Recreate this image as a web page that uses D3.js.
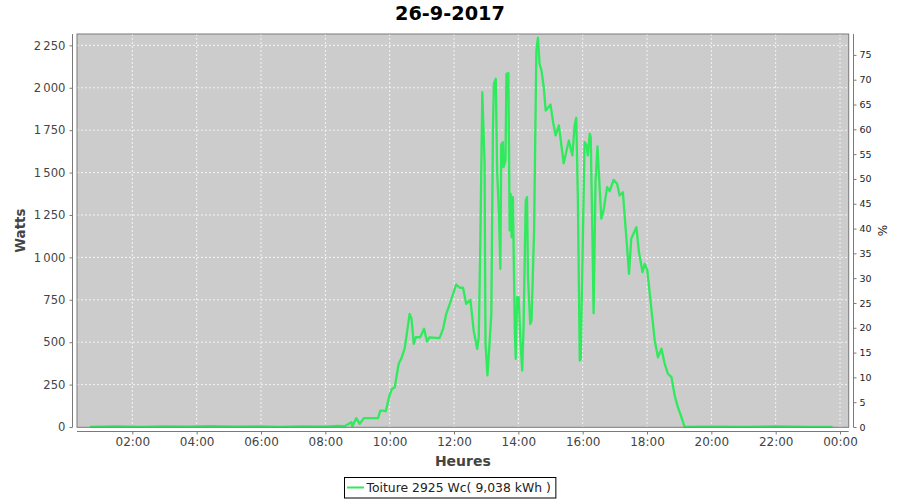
<!DOCTYPE html>
<html><head><meta charset="utf-8">
<script src="https://cdn.jsdelivr.net/npm/d3@7"></script>
<style>
html,body{margin:0;padding:0;background:#fff;}
svg{display:block;font-family:"DejaVu Sans",sans-serif;}
</style></head>
<body><svg id="c" width="900" height="500"></svg>
<script>
const title = "26-9-2017";
const seriesName = "Toiture 2925 Wc( 9,038 kWh )";
const peakPower = 2925;
const hourTicks = [2,4,6,8,10,12,14,16,18,20,22,24];
const hourTickLabels = ["02:00","04:00","06:00","08:00","10:00","12:00","14:00","16:00","18:00","20:00","22:00","00:00"];
const wattTicks = [0,250,500,750,1000,1250,1500,1750,2000,2250];
const pctTicks = [0,5,10,15,20,25,30,35,40,45,50,55,60,65,70,75];
const hours = [0.68,1.5,2.3,3.0,3.7,4.4,5.2,5.9,6.6,7.3,8.0,8.4,8.6,
 8.81,8.84,8.96,9.07,9.20,9.64,9.71,9.79,9.88,9.98,10.06,10.16,10.21,10.28,10.36,10.47,10.54,10.62,10.68,10.75,10.81,10.95,
 11.07,11.16,11.24,11.55,11.66,11.76,11.87,11.99,12.07,12.18,12.28,12.38,12.51,12.61,12.72,12.77,12.82,12.88,12.95,12.98,
 13.04,13.11,13.16,13.21,13.24,13.30,13.34,13.40,13.44,13.47,13.52,13.54,13.60,13.63,13.69,13.73,13.76,13.79,13.83,13.89,13.92,13.96,
 14.01,14.06,14.12,14.16,14.23,14.27,14.30,14.37,14.41,14.49,14.56,14.61,14.66,14.72,14.79,14.85,14.90,15.00,15.08,15.16,15.26,15.41,
 15.57,15.68,15.75,15.80,15.85,15.91,15.94,16.01,16.06,16.12,16.16,16.22,16.25,16.30,16.34,16.40,16.46,16.51,16.58,16.65,16.76,16.84,
 16.96,17.07,17.15,17.25,17.38,17.44,17.51,17.67,17.75,17.86,17.93,18.01,18.13,18.24,18.34,18.45,18.55,18.65,18.76,18.86,18.96,19.07,19.17,
 20.0,21.0,22.0,23.0,23.77];
const watts = [0,3,0,4,2,5,2,3,0,3,2,6,5,
 28,5,52,19,52,52,97,97,93,176,221,235,294,373,402,467,559,667,638,490,529,529,
 579,504,529,524,579,667,726,795,840,821,821,726,750,569,461,529,1119,1974,1552,490,
 304,510,667,1748,2024,2053,1512,1237,933,1666,1679,1532,1571,2082,2086,1159,1375,1119,1355,569,402,765,
 765,529,333,569,1335,1355,883,608,628,1159,2220,2295,2141,2102,2003,1866,1876,1901,1797,1719,1778,1555,
 1689,1601,1778,1823,1355,392,402,1159,1679,1660,1601,1729,1709,1159,671,1453,1654,1473,1228,1277,1414,1390,
 1457,1434,1365,1384,1060,903,1110,1178,1031,913,962,923,706,510,411,461,373,314,294,186,117,58,0,
 2,0,3,0,0];

const svg = d3.select("#c");
const L = 77, R = 848.7, T = 34, B = 427.3;
const x = d3.scaleLinear().domain([0.28, 24.27]).range([L, R]);
const y = d3.scaleLinear().domain([0, 2317]).range([427, T]);
const yr = d3.scaleLinear().domain([0, 2317 / peakPower * 100]).range([427, T]);
const fmt = d3.formatLocale({decimal: ",", thousands: "\u2009", grouping: [3], currency: ["", ""]}).format(",d");

svg.append("rect").attr("x", L).attr("y", T).attr("width", R - L).attr("height", B - T)
  .attr("fill", "#cccccc");
const g = svg.append("g");
g.selectAll("line.v").data(hourTicks).join("line")
  .attr("x1", d => x(d)).attr("x2", d => x(d)).attr("y1", T).attr("y2", B)
  .attr("stroke", "#f4f4f4").attr("stroke-width", 1).attr("stroke-dasharray", "2,2");
g.selectAll("line.h").data(wattTicks.slice(1)).join("line")
  .attr("x1", L).attr("x2", R).attr("y1", d => y(d)).attr("y2", d => y(d))
  .attr("stroke", "#f4f4f4").attr("stroke-width", 1).attr("stroke-dasharray", "2,2");

const pts = hours.map((h, i) => [h, watts[i]]);
svg.append("clipPath").attr("id", "clip").append("rect")
  .attr("x", L).attr("y", T).attr("width", R - L).attr("height", B - T);
svg.append("path").datum(pts).attr("clip-path", "url(#clip)")
  .attr("d", d3.line().x(d => x(d[0])).y(d => y(d[1])))
  .attr("fill", "none").attr("stroke", "#2eea5c").attr("stroke-width", 2.3).attr("stroke-linejoin", "round");

svg.append("rect").attr("x", L).attr("y", T).attr("width", R - L).attr("height", B - T)
  .attr("fill", "none").attr("stroke", "#7a7a7a").attr("stroke-width", 1);

function styleAxis(sel, size, color) {
  sel.select(".domain").attr("stroke", "#7a7a7a");
  sel.selectAll(".tick line").attr("stroke", "#7a7a7a");
  sel.selectAll(".tick text").attr("fill", color).style("font-size", size + "px")
    .style("font-family", "'DejaVu Sans',sans-serif");
}
const ya = svg.append("g").attr("transform", "translate(72.5,0)")
  .call(d3.axisLeft(y).tickValues(wattTicks).tickFormat(fmt).tickSize(3).tickSizeOuter(0).tickPadding(4));
ya.select(".domain").attr("d", `M0,${T}V${B}`);
styleAxis(ya, 11.6, "#444");
const yra = svg.append("g").attr("transform", "translate(853.5,0)")
  .call(d3.axisRight(yr).tickValues(pctTicks).tickSize(3).tickSizeOuter(0).tickPadding(3));
yra.select(".domain").attr("d", `M0,${T}V${B}`);
styleAxis(yra, 9.5, "#222");
const xa = svg.append("g").attr("transform", "translate(0,431.5)")
  .call(d3.axisBottom(x).tickValues(hourTicks).tickFormat((d, i) => hourTickLabels[i]).tickSize(3).tickSizeOuter(0).tickPadding(3));
xa.select(".domain").attr("d", `M${L},0H${R}`);
styleAxis(xa, 12, "#444");

svg.append("text").attr("x", 450).attr("y", 19.5).attr("text-anchor", "middle")
  .style("font-size", "19.3px").style("font-weight", "bold").attr("fill", "#000").text(title);
svg.append("text").attr("x", (L + R) / 2).attr("y", 465.5).attr("text-anchor", "middle")
  .style("font-size", "14px").style("font-weight", "bold").attr("fill", "#444").text("Heures");
svg.append("text").attr("transform", `translate(25,${(T + B) / 2}) rotate(-90)`).attr("text-anchor", "middle")
  .style("font-size", "13.4px").style("font-weight", "bold").attr("fill", "#444").text("Watts");
svg.append("text").attr("transform", `translate(886.5,${(T + B) / 2}) rotate(-90)`).attr("text-anchor", "middle")
  .style("font-size", "12px").attr("fill", "#222").text("%");

const lg = svg.append("g");
const lt = lg.append("text").attr("x", 366.5).attr("y", 491.5)
  .style("font-size", "12.4px").attr("fill", "#222").text(seriesName);
const tw = lt.node().getComputedTextLength();
lg.insert("rect", "text").attr("x", 344.5).attr("y", 477.5).attr("width", (366.5 + tw + 5) - 344.5).attr("height", 20.5)
  .attr("fill", "#fff").attr("stroke", "#000").attr("stroke-width", 1);
lg.append("line").attr("x1", 347).attr("x2", 364).attr("y1", 487.5).attr("y2", 487.5)
  .attr("stroke", "#2eea5c").attr("stroke-width", 2);
</script></body></html>
